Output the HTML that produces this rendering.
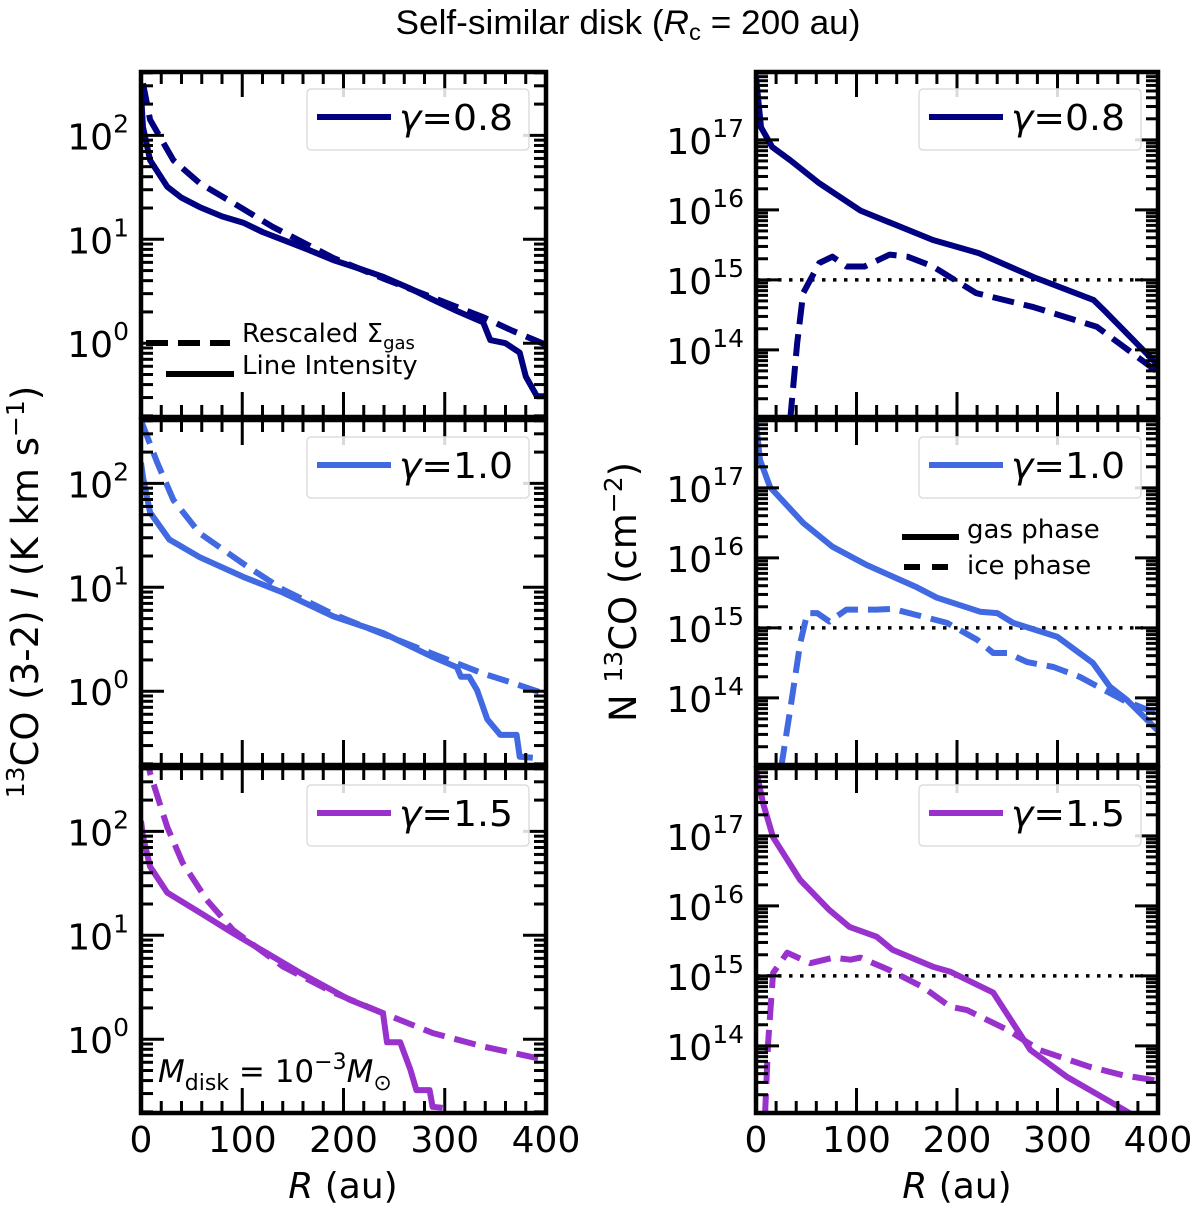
<!DOCTYPE html>
<html><head><meta charset="utf-8">
<style>
html,body{margin:0;padding:0;background:#fff;}
svg{display:block;font-family:"DejaVu Sans","Liberation Sans",sans-serif;}
</style></head>
<body>
<svg id="fig" width="1200" height="1211" viewBox="0 0 1200 1211" xmlns="http://www.w3.org/2000/svg">
<text x="628" y="34" text-anchor="middle" font-size="34" font-family="Liberation Sans, sans-serif" textLength="465" lengthAdjust="spacingAndGlyphs">Self-similar disk (<tspan font-style="italic">R</tspan><tspan font-size="23" dy="6">c</tspan><tspan dy="-6"> = 200 au)</tspan></text>
<text transform="translate(38,592) rotate(-90)" text-anchor="middle" font-size="37"><tspan font-size="25" dy="-14">13</tspan><tspan dy="14">CO (3-2) </tspan><tspan font-style="italic">I</tspan> (K km s<tspan font-size="25" dy="-14">−1</tspan><tspan dy="14">)</tspan></text>
<text transform="translate(636,592) rotate(-90)" text-anchor="middle" font-size="37">N <tspan font-size="25" dy="-14">13</tspan><tspan dy="14">CO (cm</tspan><tspan font-size="25" dy="-14">−2</tspan><tspan dy="14">)</tspan></text>
<text x="343" y="1198" text-anchor="middle" font-size="36"><tspan font-style="italic">R</tspan> (au)</text>
<text x="957" y="1198" text-anchor="middle" font-size="36"><tspan font-style="italic">R</tspan> (au)</text>
<g id="plots"></g>
</svg>
<script>
// ---- data (R in au, values as log10) ----
const gammaLabels = ["0.8", "1.0", "1.5"];
const colors = ["#000080", "#4169e1", "#9932cc"];
// Left column: line intensity (solid) and rescaled Sigma_gas (dashed), log10 K km/s
const intR08 = [0,2,9,26,40,58,80,101,120,140,165,190,215,239,265,288,312,338,345,360,374,380,391,400];
const intL08 = [2.4,2.08,1.76,1.505,1.4,1.31,1.22,1.16,1.07,0.995,0.9,0.8,0.72,0.64,0.53,0.42,0.31,0.2,0.03,0.0,-0.09,-0.32,-0.51,-0.51];
const sigR08 = [2,9,32,58,91,130,190,240,288,338,367,400];
const sigL08 = [2.5,2.15,1.76,1.54,1.35,1.12,0.82,0.62,0.44,0.25,0.12,-0.015];
const intR10 = [0,2,9,28,58,101,140,190,239,288,312,316,324,332,342,355,371,374,387];
const intL10 = [2.2,2.06,1.72,1.46,1.29,1.1,0.95,0.72,0.56,0.33,0.23,0.14,0.14,0.01,-0.27,-0.42,-0.42,-0.63,-0.64];
const sigR10 = [1,16,32,58,105,140,190,239,288,338,367,400];
const sigL10 = [2.58,2.2,1.84,1.52,1.2,0.98,0.74,0.55,0.36,0.17,0.08,-0.03];
const intR15 = [0,2,9,26,58,91,124,157,206,239,243,256,266,272,285,288,298];
const intL15 = [2.1,1.95,1.66,1.41,1.22,1.02,0.83,0.64,0.38,0.25,-0.03,-0.03,-0.29,-0.49,-0.49,-0.65,-0.66];
const sigR15 = [5,9,26,41,65,91,140,190,239,288,338,400];
const sigL15 = [2.75,2.56,2.04,1.7,1.34,1.05,0.7,0.45,0.25,0.06,-0.07,-0.2];
// Right column: gas (solid) and ice (dashed) column density, log10 cm^-2
const gasR08 = [0,5,16,34,63,104,176,222,276,336,346,398,400];
const gasL08 = [17.9,17.18,16.9,16.71,16.38,15.99,15.57,15.38,15.04,14.71,14.57,13.81,13.78];
const iceR08 = [34,41,47,63,76,90,108,133,151,176,219,276,339,400];
const iceL08 = [13.0,14.1,14.81,15.24,15.33,15.19,15.19,15.36,15.33,15.19,14.81,14.61,14.33,13.68];
const gasR10 = [0,4,14,47,76,110,160,180,223,240,256,300,335,352,369,400];
const gasL10 = [17.93,17.4,17.01,16.5,16.16,15.9,15.58,15.43,15.23,15.21,15.07,14.87,14.5,14.16,13.97,13.53];
const iceR10 = [25,34,44,51,61,73,90,120,136,166,190,220,236,250,270,296,322,365,400];
const iceL10 = [13.0,13.83,14.78,15.21,15.21,15.09,15.26,15.26,15.27,15.16,15.07,14.83,14.64,14.64,14.51,14.44,14.3,13.97,13.77];
const gasR15 = [0,7,17,44,73,93,120,136,176,193,236,273,309,349,375];
const gasL15 = [17.95,17.47,16.98,16.37,15.94,15.7,15.56,15.37,15.13,15.06,14.76,13.94,13.56,13.23,13.01];
const iceR15 = [9,12,17,31,54,77,94,104,133,166,193,210,250,282,332,365,400];
const iceL15 = [13.0,14.04,15.04,15.33,15.18,15.26,15.23,15.26,15.08,14.84,14.56,14.51,14.23,13.94,13.7,13.58,13.5];
const iceThreshold = 15;
const xTicks = [0,100,200,300,400];
const leftYTicks = [0,1,2];
const rightYTicks = [14,15,16,17];

const NS = "http://www.w3.org/2000/svg";
const root = document.getElementById("plots");
function el(tag, attrs, parent){
  const e = document.createElementNS(NS, tag);
  for (const k in attrs) e.setAttribute(k, attrs[k]);
  (parent || root).appendChild(e);
  return e;
}
const tops = [72, 420, 768];
const H = 345;
const cols = [
  {x0:141, x1:546, ymin:-0.71, ymax:2.61, yt:leftYTicks},
  {x0:756, x1:1158, ymin:13.04, ymax:17.97, yt:rightYTicks}
];
const leftData = [[intR08,intL08,sigR08,sigL08],[intR10,intL10,sigR10,sigL10],[intR15,intL15,sigR15,sigL15]];
const rightData = [[gasR08,gasL08,iceR08,iceL08],[gasR10,gasL10,iceR10,iceL10],[gasR15,gasL15,iceR15,iceL15]];

function makeAxes(c, top){
  const sx = r => c.x0 + (r/400)*(c.x1-c.x0);
  const sy = v => top + (c.ymax - v)/(c.ymax-c.ymin)*H;
  return {sx, sy};
}
function poly(xs, ys, ax, color, dashed, g){
  let d = "";
  for (let i=0;i<xs.length;i++){ d += (i?"L":"M") + ax.sx(xs[i]).toFixed(1) + "," + ax.sy(ys[i]).toFixed(1); }
  const p = el("path", {d, fill:"none", stroke:color, "stroke-width":6, "stroke-linejoin":"round"}, g);
  if (dashed) p.setAttribute("stroke-dasharray","22,10");
  return p;
}

for (let ci=0; ci<2; ci++){
  const c = cols[ci];
  for (let ri=0; ri<3; ri++){
    const top = tops[ri];
    const ax = makeAxes(c, top);
    const g = el("g", {});
    
    
    const clipId = "clip"+ci+ri;
    const cp = el("clipPath", {id:clipId}, g);
    el("rect", {x:c.x0, y:top, width:c.x1-c.x0, height:H}, cp);
    const data = ci ? rightData[ri] : leftData[ri];
    const lg = el("g", {"clip-path":"url(#"+clipId+")"}, g);
    if (ci){
      const dl = el("line", {x1:ax.sx(0), x2:ax.sx(385), y1:ax.sy(iceThreshold), y2:ax.sy(iceThreshold), stroke:"#000", "stroke-width":3.5, "stroke-dasharray":"3.5,7.5"}, lg);
      
      
    }
    const s = poly(data[0], data[1], ax, colors[ri], false, lg);
    
    
    const dsh = poly(data[2], data[3], ax, colors[ri], true, lg);
    
    
    for (let r=0; r<=400; r+=20){
      const major = (r%100===0);
      const L = major?25:12;
      const x = ax.sx(r);
      el("line",{x1:x,x2:x,y1:top+H,y2:top+H-L,stroke:"#000","stroke-width":3},g);
      el("line",{x1:x,x2:x,y1:top,y2:top+L,stroke:"#000","stroke-width":3},g);
    }
    for (let k=Math.floor(c.ymin); k<=Math.ceil(c.ymax); k++){
      for (let m=1;m<10;m++){
        const v = k + Math.log10(m);
        if (v<c.ymin || v>c.ymax) continue;
        const L = m===1?23:12;
        const y = ax.sy(v);
        el("line",{x1:c.x0,x2:c.x0+L,y1:y,y2:y,stroke:"#000","stroke-width":3},g);
        el("line",{x1:c.x1,x2:c.x1-L,y1:y,y2:y,stroke:"#000","stroke-width":3},g);
      }
    }
    for (const k of c.yt){
      const t = el("text",{x:c.x0-12, y:ax.sy(k)+14, "text-anchor":"end","font-size":36},g);
      
      
      t.innerHTML = '10<tspan font-size="25" dy="-17">'+k+'</tspan>';
    }
    if (ri===2){
      for (const r of xTicks){
        const t = el("text",{x:ax.sx(r), y:1152, "text-anchor":"middle","font-size":36},g);
        
        
        t.textContent = r;
      }
    }
    const sp = el("rect",{x:c.x0,y:top,width:c.x1-c.x0,height:H,fill:"none",stroke:"#000","stroke-width":4.5},g);
    
    
    const lx = c.x1 - 239, ly = top + 17;
    const leg = el("g",{},g);
    
    
    el("rect",{x:lx,y:ly,width:222,height:61,rx:4,fill:"#fff","fill-opacity":0.85,stroke:"#ddd","stroke-width":1.5},leg);
    el("line",{x1:lx+10,x2:lx+84,y1:ly+28,y2:ly+28,stroke:colors[ri],"stroke-width":6},leg);
    const lt = el("text",{x:lx+92,y:ly+41,"font-size":36,"textLength":114,"lengthAdjust":"spacingAndGlyphs"},leg);
    lt.innerHTML = '<tspan font-style="italic">γ</tspan>=' + gammaLabels[ri];
  }
}
const a = el("g",{});


el("line",{x1:146,x2:230,y1:343,y2:343,stroke:"#000","stroke-width":6,"stroke-dasharray":"22,10"},a);
el("line",{x1:166,x2:234,y1:374,y2:374,stroke:"#000","stroke-width":6},a);
const t1 = el("text",{x:242,y:342,"font-size":26},a);
t1.innerHTML = 'Rescaled Σ<tspan font-size="18" dy="7">gas</tspan>';
const t2 = el("text",{x:242,y:374,"font-size":26},a); t2.textContent = "Line Intensity";
const b = el("g",{});


el("line",{x1:902,x2:959,y1:537,y2:537,stroke:"#000","stroke-width":6},b);
el("line",{x1:904,x2:957,y1:567,y2:567,stroke:"#000","stroke-width":6,"stroke-dasharray":"16,12"},b);
const t3 = el("text",{x:967,y:538,"font-size":26},b); t3.textContent = "gas phase";
const t4 = el("text",{x:967,y:574,"font-size":26},b); t4.textContent = "ice phase";
const m = el("text",{x:158,y:1082,"font-size":31});


m.innerHTML = '<tspan font-style="italic">M</tspan><tspan font-size="22" dy="8">disk</tspan><tspan dy="-8"> = 10</tspan><tspan font-size="22" dy="-13">−3</tspan><tspan dy="13" font-style="italic">M</tspan><tspan font-size="22" dy="8">⊙</tspan>';
</script>
</body></html>
